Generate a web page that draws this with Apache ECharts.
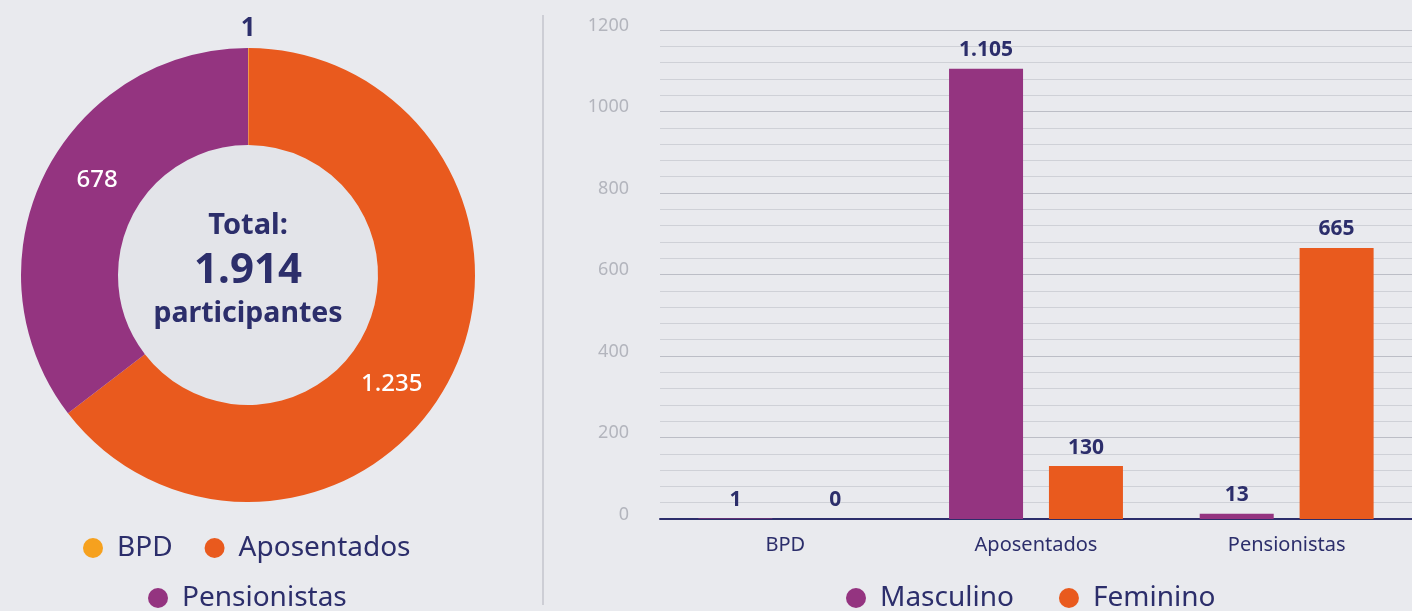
<!DOCTYPE html>
<html>
<head>
<meta charset="utf-8">
<style>
  html, body { margin: 0; padding: 0; background: #e9eaee; }
  #chart { width: 1412px; height: 611px; }
</style>
<script src="https://cdn.jsdelivr.net/npm/echarts@6/dist/echarts.min.js"></script>
</head>
<body>
<div id="chart"></div>
<script>
// donut: participants by type
const pieNames = ['BPD', 'Aposentados', 'Pensionistas']
const pieValues = [1, 1235, 678]
const pieColors = ['#f6a11e', '#e95a1e', '#943480']

// bars: sex by type
const barCategories = ['BPD', 'Aposentados', 'Pensionistas']
const masculino = [1, 1105, 13]
const feminino = [0, 130, 665]

const yMin = 0
const yMax = 1200
const yStep = 200

const navy = '#2c2e6b'
const font = 'Noto Sans'

const fmt = (v) => String(v).replace(/\B(?=(\d{3})+(?!\d))/g, '.')
const total = pieValues.reduce((a, b) => a + b, 0)

// per-slice label tweaks to sit where the original has them
const pieLabelTweaks = [
  { offset: [0, -65], color: navy, fontWeight: 'bold', fontSize: 26 },
  { offset: [-19, 29], color: '#fff', fontSize: 24, fontWeight: 500 },
  { offset: [12, -15], color: '#fff', fontSize: 24, fontWeight: 500 }
]

const chart = echarts.init(document.getElementById('chart'))

const legendText = { color: navy, fontSize: 28, fontFamily: font, padding: [0, 0, 0, 9] }
const legendBase = { icon: 'circle', itemWidth: 20, itemHeight: 20, padding: 0, textStyle: legendText }

chart.setOption({
  backgroundColor: '#e9eaee',
  textStyle: { fontFamily: font },
  animation: false,
  graphic: [
    {
      type: 'circle',
      z: 0,
      shape: { cx: 248, cy: 275, r: 130 },
      style: { fill: '#e3e4e9' }
    },
    {
      type: 'line',
      shape: { x1: 543, y1: 15, x2: 543, y2: 605 },
      style: { stroke: '#c3c5cc', lineWidth: 1.5 }
    },
    {
      type: 'text',
      z: 10,
      style: {
        x: 248, y: 269,
        align: 'center', verticalAlign: 'middle',
        text: '{t|Total:}\n{b|' + fmt(total) + '}\n{p|participantes}',
        rich: {
          t: { fontSize: 29, fontWeight: 'bold', fill: navy, fontFamily: font, lineHeight: 44, align: 'center' },
          b: { fontSize: 42, fontWeight: 'bold', fill: navy, fontFamily: font, lineHeight: 46, align: 'center' },
          p: { fontSize: 28.5, fontWeight: 'bold', fill: navy, fontFamily: font, lineHeight: 40, align: 'center' }
        }
      }
    }
  ],
  legend: [
    Object.assign({ data: ['BPD', 'Aposentados'], left: 83, top: 534, itemGap: 32 }, legendBase),
    Object.assign({ data: ['Pensionistas'], left: 148, top: 584 }, legendBase),
    Object.assign({ data: ['Masculino', 'Feminino'], left: 846, top: 584, itemGap: 45 }, legendBase)
  ],
  grid: { left: 660, top: 30, width: 753, height: 489, containLabel: false },
  xAxis: {
    type: 'category',
    data: barCategories,
    axisTick: { show: false },
    axisLine: { lineStyle: { color: navy, width: 2 } },
    axisLabel: { color: navy, fontSize: 20, margin: 16, fontFamily: font }
  },
  yAxis: {
    type: 'value',
    min: yMin, max: yMax, interval: yStep,
    axisLine: { show: false },
    axisTick: { show: false },
    axisLabel: {
      color: '#b3b5bd', fontSize: 18, margin: 31, fontFamily: font,
      verticalAlign: 'bottom', lineHeight: 9,
      formatter: (v) => String(v)
    },
    splitLine: { lineStyle: { color: '#bcbec6', width: 1.2 } },
    minorTick: { show: false, splitNumber: 5 },
    minorSplitLine: { show: true, lineStyle: { color: '#cfd1d7', width: 1.2 } }
  },
  series: [
    {
      type: 'pie',
      name: 'Participantes',
      center: [248, 275],
      radius: [130, 227],
      startAngle: 90,
      clockwise: true,
      avoidLabelOverlap: false,
      labelLine: { show: false },
      label: {
        show: true,
        position: 'inside',
        fontFamily: font,
        formatter: (p) => fmt(p.value)
      },
      data: pieNames.map((n, i) => ({
        name: n,
        value: pieValues[i],
        itemStyle: { color: pieColors[i] },
        label: pieLabelTweaks[i]
      }))
    },
    {
      type: 'bar',
      name: 'Masculino',
      data: masculino,
      barWidth: 74,
      barGap: '35%',
      itemStyle: { color: '#943480' },
      label: {
        show: true, position: 'top', distance: 8,
        color: navy, fontSize: 21, fontWeight: 'bold', fontFamily: font,
        formatter: (p) => fmt(p.value)
      }
    },
    {
      type: 'bar',
      name: 'Feminino',
      data: feminino,
      barWidth: 74,
      itemStyle: { color: '#e95a1e' },
      label: {
        show: true, position: 'top', distance: 8,
        color: navy, fontSize: 21, fontWeight: 'bold', fontFamily: font,
        formatter: (p) => fmt(p.value)
      }
    }
  ]
})

window.addEventListener('resize', () => chart.resize())
</script>
</body>
</html>
